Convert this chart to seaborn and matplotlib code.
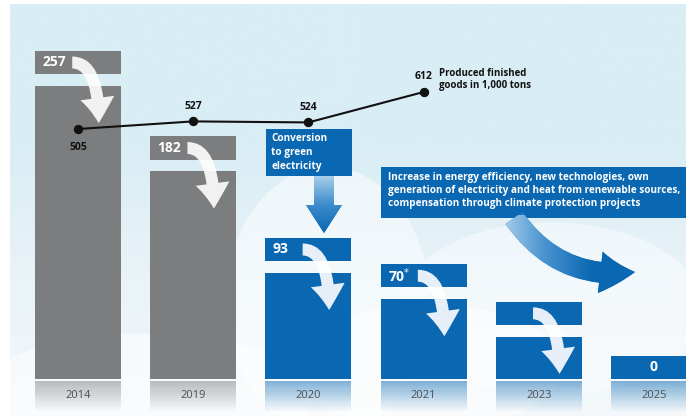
import numpy as np
import matplotlib
matplotlib.use("Agg")
import matplotlib.pyplot as plt
from matplotlib.patches import Rectangle, FancyArrow, FancyArrowPatch, Ellipse
from matplotlib.colors import LinearSegmentedColormap
import seaborn as sns

# --- data
years = ["2014", "2019", "2020", "2021", "2023", "2025"]
emissions = [257, 182, 93, 70, 37, 0]          # CO2 in 1,000 t (2023 unlabeled, estimated)
emission_labels = ["257", "182", "93", "70$^{*}$", "", "0"]
prod_years = ["2014", "2019", "2020", "2021"]
production = [505, 527, 524, 612]              # produced finished goods in 1,000 tons

GRAY = "#7b7d7f"
BLUE = "#0a68b2"
bar_colors = [GRAY, GRAY, BLUE, BLUE, BLUE, BLUE]
BAND = 20.2   # height of the label band above each bar
GAP = 10.5    # gap between band and bar

sns.set_theme(style="white")
plt.rcParams["font.family"] = ["Open Sans", "DejaVu Sans"]

fig = plt.figure(figsize=(6.92, 4.16), dpi=100)
fig.patch.set_facecolor("white")
ax = fig.add_axes([10 / 692, 0, 676 / 692, 412 / 416])

# background: light sky fading to white clouds
sky = LinearSegmentedColormap.from_list("sky", ["#f4f8fb", "#e9f3f8", "#d9edf5", "#d9edf5"])
grad = np.linspace(0, 1, 256).reshape(-1, 1)
ax.imshow(grad, cmap=sky, aspect="auto", extent=[0, 1, 0, 1], transform=ax.transAxes,
          zorder=0, origin="lower")
for (cx, cy, w, h, a) in [(0.47, 0.28, 0.30, 0.65, 0.5), (0.80, 0.26, 0.45, 0.42, 0.45),
                          (0.20, 0.05, 0.50, 0.30, 0.5), (0.62, 0.12, 0.4, 0.3, 0.5)]:
    ax.add_patch(Ellipse((cx, cy), w, h, transform=ax.transAxes, color="white",
                         alpha=a, lw=0, zorder=0.5))

pos = np.arange(len(years))
vals = np.array(emissions, dtype=float)
sns.barplot(x=years, y=emissions, hue=years, palette=bar_colors, width=0.746,
            saturation=1, legend=False, linewidth=0, edgecolor="none", ax=ax, zorder=2)

gap = np.where(vals > 0, GAP, 0)
ax.bar(pos, BAND, bottom=vals + gap, width=0.746, color=bar_colors, lw=0, zorder=2)

# reflections under the bars
n = 14
for k in range(n):
    top = -1.6 - k * 1.9
    alpha = 0.5 * (1 - k / n)
    ax.bar(pos, -1.9, bottom=top, width=0.746, color=bar_colors, alpha=alpha, lw=0, zorder=1.5)

for i, (yr, v, lab) in enumerate(zip(years, vals, emission_labels)):
    ax.text(i, -14.9, yr, ha="center", va="center", fontsize=8, color="#4d4f52", zorder=3)
    band_mid = v + gap[i] + BAND / 2
    if lab:
        if v > 0:
            ax.text(i - 0.31, band_mid, lab, ha="left", va="center", fontsize=10,
                    fontweight="bold", color="white", zorder=4)
        else:
            ax.text(i, band_mid, lab, ha="center", va="center", fontsize=10,
                    fontweight="bold", color="white", zorder=4)
    if v > 0:
        arr = FancyArrowPatch((i - 0.05, band_mid), (i + 0.18, v - 32.5),
                              connectionstyle="angle3,angleA=0,angleB=90",
                              arrowstyle="simple,head_width=2.45,head_length=1.8,tail_width=0.86",
                              mutation_scale=10, shrinkA=0, shrinkB=0,
                              color="white", alpha=0.9, lw=0, zorder=3)
        ax.add_patch(arr)

ax.set_xlim((10 - 78) / 115.2, (686 - 78) / 115.2)
ax.set_ylim(-32.46, 328.9)
ax.axis("off")

# production line
ax2 = ax.twinx()
sns.lineplot(x=pos[:len(production)], y=production, ax=ax2, color="#111111", lw=1.5,
             marker="o", markersize=6, markeredgecolor="#111111", zorder=5)
ax2.set_ylim(-325, 866.5)
ax2.axis("off")
for i, p in enumerate(production):
    if i == 0:
        off, va = (0, -9), "top"
    else:
        off, va = (0, 7), "bottom"
    ax2.annotate(str(p), (i, p), xytext=off, textcoords="offset points", ha="center", va=va,
                 fontsize=7.5, fontweight="bold", color="#111111")
ax2.annotate("Produced finished\ngoods in 1,000 tons", (len(production) - 1, production[-1]),
             xytext=(11, 17), textcoords="offset points", ha="left", va="top",
             fontsize=7, fontweight="bold", color="#111111", linespacing=1.05)

# text boxes and big arrows (pixel coordinates)
axd = fig.add_axes([0, 0, 1, 1])
axd.set_xlim(0, 692)
axd.set_ylim(416, 0)
axd.patch.set_alpha(0)
axd.axis("off")

axd.add_patch(Rectangle((266, 129), 86, 47, color=BLUE, lw=0))
axd.text(271, 133, "Conversion\nto green\nelectricity", ha="left", va="top", fontsize=7.2,
         fontweight="bold", color="white", linespacing=1.35)

blue_fade = LinearSegmentedColormap.from_list("bf", ["#a9cfea", "#3d8ccc", BLUE])
a1 = FancyArrow(324, 176, 0, 57, width=20, head_width=36, head_length=28,
                length_includes_head=True, color=BLUE, lw=0)
axd.add_patch(a1)
im1 = axd.imshow(grad, cmap=blue_fade, extent=[300, 350, 233, 176], aspect="auto", zorder=2)
im1.set_clip_path(a1)

axd.add_patch(Rectangle((381, 167), 305, 51, color=BLUE, lw=0))
axd.text(388, 172, "Increase in energy efficiency, new technologies, own\n"
         "generation of electricity and heat from renewable sources,\n"
         "compensation through climate protection projects",
         ha="left", va="top", fontsize=7.2, fontweight="bold", color="white", linespacing=1.25)

a2 = FancyArrowPatch((514, 218), (635, 272), connectionstyle="arc3,rad=0.3",
                     arrowstyle="simple,head_width=3.0,head_length=2.5,tail_width=1.5",
                     mutation_scale=10, shrinkA=0, shrinkB=0, color="#1f78c1", lw=0)
axd.add_patch(a2)
fade2 = LinearSegmentedColormap.from_list("f2", ["#bcdaf0", "#4a94d0", BLUE, BLUE])
im2 = axd.imshow(grad.T, cmap=fade2, extent=[495, 640, 300, 215], aspect="auto", zorder=2)
im2.set_clip_path(a2)

fig.savefig("out.png", dpi=100)
